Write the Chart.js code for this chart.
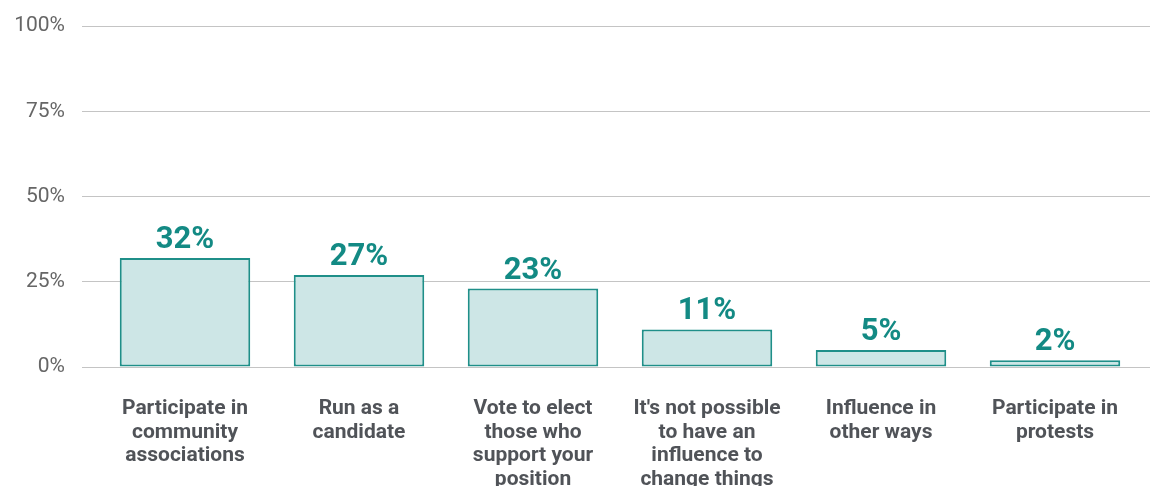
<!DOCTYPE html>
<html>
<head>
<meta charset="utf-8">
<script src="https://cdn.jsdelivr.net/npm/chart.js@4/dist/chart.umd.min.js"></script>
<style>
  html, body { margin: 0; padding: 0; background: #ffffff; }
  #wrap { width: 1150px; height: 486px; }
</style>
</head>
<body>
<div id="wrap"><canvas id="c" width="1150" height="486"></canvas></div>
<script>
const categories = [
  ["Participate in", "community", "associations"],
  ["Run as a", "candidate"],
  ["Vote to elect", "those who", "support your", "position"],
  ["It's not possible", "to have an", "influence to", "change things"],
  ["Influence in", "other ways"],
  ["Participate in", "protests"]
];
const shares = [32, 27, 23, 11, 5, 2];
const yTicks = [0, 25, 50, 75, 100];

const TEAL = "#138a84";
const FILL = "#cde6e6";
const GRID = "#c4c4c4";

// Value labels printed above each bar
const valueLabels = {
  id: "valueLabels",
  afterDatasetsDraw(chart) {
    const { ctx } = chart;
    const meta = chart.getDatasetMeta(0);
    ctx.save();
    ctx.fillStyle = TEAL;
    ctx.font = "bold 31px Roboto";
    ctx.textAlign = "center";
    ctx.textBaseline = "alphabetic";
    meta.data.forEach((bar, i) => {
      ctx.fillText(shares[i] + "%", bar.x, bar.y - 10);
    });
    ctx.restore();
  }
};

new Chart(document.getElementById("c"), {
  type: "bar",
  data: {
    labels: categories,
    datasets: [{
      data: shares,
      backgroundColor: FILL,
      borderColor: "#1f8f89",
      borderWidth: 2,
      borderSkipped: false,
      barPercentage: 0.75,
      categoryPercentage: 1
    }]
  },
  options: {
    responsive: false,
    animation: false,
    layout: { padding: { top: 26, left: 0, right: 0, bottom: 0 } },
    plugins: { legend: { display: false }, tooltip: { enabled: false } },
    scales: {
      x: {
        grid: { display: false },
        border: { display: false },
        ticks: {
          color: "#505358",
          font: { family: "Roboto", size: 21, weight: "bold", lineHeight: 1.12 },
          padding: 22,
          maxRotation: 0,
          autoSkip: false
        },
        afterFit(scale) { scale.height = 119; }
      },
      y: {
        min: 0,
        max: 100,
        afterBuildTicks(scale) { scale.ticks = yTicks.map(v => ({ value: v })); },
        grid: { color: GRID, lineWidth: 1, tickLength: 16, drawTicks: true },
        border: { display: false },
        ticks: {
          color: "#666666",
          font: { family: "Roboto", size: 21, lineHeight: 0.8 },
          padding: 17,
          callback: v => v + "%"
        },
        afterFit(scale) { scale.width = 98; }
      },
      yRight: {
        position: "right",
        min: 0,
        max: 100,
        afterBuildTicks(scale) { scale.ticks = yTicks.map(v => ({ value: v })); },
        grid: { color: GRID, lineWidth: 1, tickLength: 8, drawOnChartArea: false },
        border: { display: false },
        ticks: { display: false },
        afterFit(scale) { scale.width = 8; }
      }
    }
  },
  plugins: [valueLabels]
});
</script>
</body>
</html>
